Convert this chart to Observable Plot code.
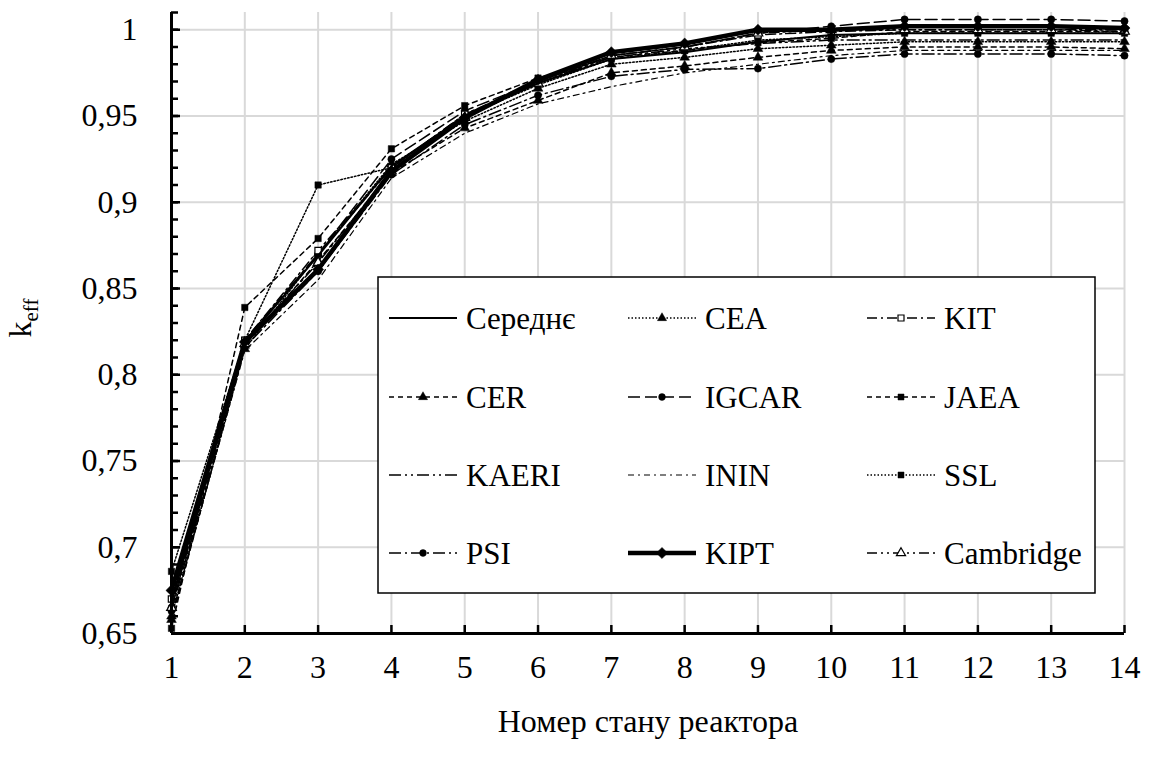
<!DOCTYPE html>
<html><head><meta charset="utf-8">
<script src="https://cdn.jsdelivr.net/npm/d3@7"></script>
<script src="https://cdn.jsdelivr.net/npm/@observablehq/plot@0.6"></script>
<style>body{margin:0;background:#fff;color:#000}</style>
</head><body><div id="chart"></div>
<script>
// ---- data ----
const states = [1,2,3,4,5,6,7,8,9,10,11,12,13,14];
const seriesNames = ["Середнє","CEA","KIT","CER","IGCAR","JAEA","KAERI","ININ","SSL","PSI","KIPT","Cambridge"];
const mean      = [0.668,0.819,0.869,0.921,0.950,0.969,0.983,0.987,0.993,0.997,0.998,0.998,0.998,0.998];
const cea       = [0.660,0.815,0.870,0.922,0.947,0.966,0.980,0.984,0.989,0.991,0.993,0.993,0.993,0.993];
const kit       = [0.670,0.820,0.872,0.920,0.951,0.970,0.985,0.990,0.997,0.999,1.000,1.000,1.000,1.000];
const cer       = [0.658,0.817,0.866,0.917,0.943,0.959,0.975,0.979,0.984,0.988,0.990,0.990,0.990,0.989];
const igcar     = [0.665,0.820,0.870,0.925,0.953,0.970,0.985,0.990,0.998,1.002,1.006,1.006,1.006,1.005];
const jaea      = [0.653,0.839,0.879,0.931,0.956,0.972,0.984,0.988,0.9925,0.995,0.999,0.999,0.999,0.999];
const kaeri     = [0.670,0.820,0.870,0.920,0.951,0.969,0.984,0.989,0.992,0.994,0.994,0.994,0.994,0.994];
const inin      = [0.660,0.814,0.855,0.914,0.940,0.957,0.967,0.975,0.980,0.985,0.988,0.988,0.988,0.988];
const ssl       = [0.686,0.820,0.910,0.920,0.950,0.968,0.983,0.988,0.994,0.996,0.998,0.998,0.998,0.998];
const psi       = [0.663,0.816,0.860,0.916,0.945,0.962,0.973,0.977,0.9775,0.983,0.986,0.986,0.986,0.985];
const kipt      = [0.675,0.819,0.861,0.918,0.949,0.971,0.987,0.992,1.000,1.000,1.002,1.002,1.002,1.001];
const cambridge = [0.665,0.818,0.865,0.918,0.949,0.969,0.985,0.990,0.998,1.000,1.000,1.000,1.000,0.999];
const seriesValues = [mean,cea,kit,cer,igcar,jaea,kaeri,inin,ssl,psi,kipt,cambridge];
const yTicks = [0.65,0.7,0.75,0.8,0.85,0.9,0.95,1];
const yTickLabels = ["0,65","0,7","0,75","0,8","0,85","0,9","0,95","1"];
const yMinor = [0.65,0.66,0.67,0.68,0.69,0.7,0.71,0.72,0.73,0.74,0.75,0.76,0.77,0.78,0.79,0.8,0.81,0.82,0.83,0.84,0.85,0.86,0.87,0.88,0.89,0.9,0.91,0.92,0.93,0.94,0.95,0.96,0.97,0.98,0.99,1,1.01];
const xLabel = "Номер стану реактора";

// ---- styles ----
const FONT = "Liberation Serif";
const style = {
  "Середнє":  {dash: null,            width: 2,   symbol: null},
  "CEA":      {dash: "1.5,2",         width: 1.5, symbol: "triangle", fill: "black"},
  "KIT":      {dash: "10,4,2,4",      width: 1.5, symbol: "square", fill: "white"},
  "CER":      {dash: "5,4",           width: 1.5, symbol: "triangle", fill: "black"},
  "IGCAR":    {dash: "12,5",          width: 1.5, symbol: "circle", fill: "black"},
  "JAEA":     {dash: "5,4",           width: 1.5, symbol: "square", fill: "black"},
  "KAERI":    {dash: "12,4,2,4,2,4",  width: 1.5, symbol: null},
  "ININ":     {dash: "6,4,2,4",       width: 1.2, symbol: null},
  "SSL":      {dash: "1.5,2",         width: 1.5, symbol: "square", fill: "black"},
  "PSI":      {dash: "12,4,2,4",      width: 1.5, symbol: "circle", fill: "black"},
  "KIPT":     {dash: null,            width: 4.5, symbol: "diamond2", fill: "black"},
  "Cambridge":{dash: "10,4,2,4,2,4",  width: 1.5, symbol: "triangle", fill: "white"}
};
const d3sym = {triangle: d3.symbolTriangle, square: d3.symbolSquare, circle: d3.symbolCircle, diamond2: d3.symbolDiamond2};

const rows = [];
seriesNames.forEach((s, k) => seriesValues[k].forEach((v, i) => rows.push({series: s, x: states[i], y: v})));

const drawOrder = ["ININ","PSI","IGCAR","CER","CEA","JAEA","KAERI","SSL","KIT","Cambridge","Середнє","KIPT"];
const seriesMarks = [];
for (const s of drawOrder) {
  const st = style[s];
  const data = rows.filter(r => r.series === s);
  seriesMarks.push(Plot.line(data, {x: "x", y: "y", stroke: "black", strokeWidth: st.width, strokeDasharray: st.dash ?? undefined}));
  if (st.symbol) {
    seriesMarks.push(Plot.dot(data, {x: "x", y: "y", symbol: st.symbol, r: s === "KIPT" ? 5 : 3.6, fill: st.fill, stroke: "black", strokeWidth: st.fill === "white" ? 1.2 : 0.5}));
  }
}

const chart = Plot.plot({
  width: 1156, height: 757,
  marginLeft: 171, marginRight: 32, marginTop: 12, marginBottom: 124,
  x: {domain: [1, 14]},
  y: {domain: [0.65, 1.01]},
  marks: [
    Plot.gridX(states, {stroke: "#d9d9d9", strokeOpacity: 1, strokeWidth: 2}),
    Plot.gridY(yTicks, {stroke: "#d9d9d9", strokeOpacity: 1, strokeWidth: 2}),
    ...seriesMarks,
    Plot.ruleX([1], {stroke: "black", strokeWidth: 3}),
    Plot.ruleY([0.65], {stroke: "black", strokeWidth: 3}),
    Plot.axisY(yMinor, {tickSize: -7, strokeWidth: 2.5, tickFormat: () => "", label: null}),
    Plot.axisY(yTicks, {tickSize: -9, tickPadding: 43, strokeWidth: 2.5, fontSize: 32, tickFormat: d => yTickLabels[yTicks.indexOf(d)], label: null}),
    Plot.axisX(states, {tickSize: -8, tickPadding: 30, strokeWidth: 2.5, fontSize: 32, tickFormat: d => String(d), label: null}),
    Plot.text([xLabel], {text: d => d, frameAnchor: "bottom", dy: 98, fontSize: 32})
  ]
});
document.getElementById("chart").appendChild(chart);

const svg = d3.select(chart);

// y axis title with subscript
const yl = svg.append("text").attr("transform", "translate(31,318) rotate(-90)").attr("text-anchor", "middle");
yl.append("tspan").attr("font-size", 32).text("k");
yl.append("tspan").attr("font-size", 21).attr("dy", 7).text("eff");

// legend
const leg = svg.append("g");
leg.append("rect").attr("x", 378).attr("y", 277).attr("width", 717).attr("height", 316)
  .attr("fill", "white").attr("stroke", "black").attr("stroke-width", 1.5);
const colX = [389, 628, 867];
const rowY = [318, 397, 475, 553];
const legendOrder = ["Середнє","CEA","KIT","CER","IGCAR","JAEA","KAERI","ININ","SSL","PSI","KIPT","Cambridge"];
legendOrder.forEach((s, i) => {
  const st = style[s];
  const x0 = colX[i % 3], y0 = rowY[Math.floor(i / 3)];
  leg.append("line").attr("x1", x0).attr("x2", x0 + 68).attr("y1", y0).attr("y2", y0)
    .attr("stroke", "black").attr("stroke-width", st.width).attr("stroke-dasharray", st.dash);
  if (st.symbol) {
    leg.append("path").attr("transform", `translate(${x0 + 34},${y0})`)
      .attr("d", d3.symbol(d3sym[st.symbol], s === "KIPT" ? 80 : 36)())
      .attr("fill", st.fill).attr("stroke", "black").attr("stroke-width", st.fill === "white" ? 1.2 : 0.5);
  }
  leg.append("text").attr("x", x0 + 77).attr("y", y0 + 11).attr("text-anchor", "start")
    .attr("font-size", 31).text(s);
});

// font on every text element, set the same way as the working font test
svg.selectAll("text").each(function() { this.setAttribute("font-family", FONT); });
</script>
</body></html>
